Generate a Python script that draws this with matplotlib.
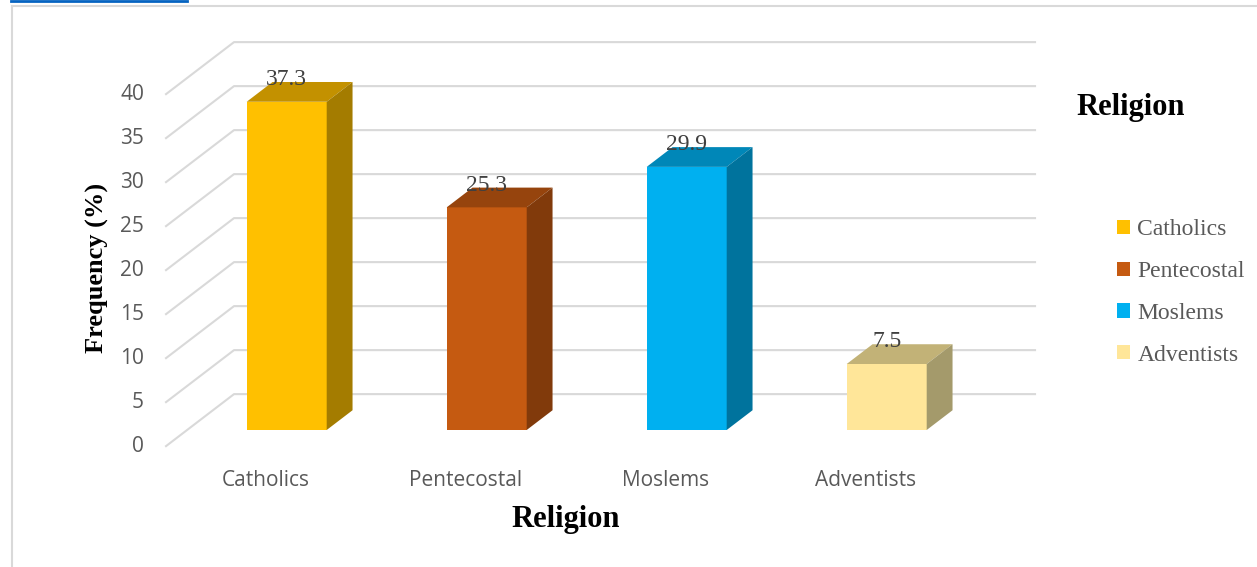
import numpy as np
import matplotlib
matplotlib.use("Agg")
from matplotlib import pyplot as plt
from matplotlib.patches import Polygon, Rectangle, Patch

#%% Data
religions = ["Catholics", "Pentecostal", "Moslems", "Adventists"]
frequency = [37.3, 25.3, 29.9, 7.5]
y_ticks = [0, 5, 10, 15, 20, 25, 30, 35, 40]

front_colors = ["#FFC000", "#C55A11", "#00B0F0", "#FFE699"]
top_colors = ["#C39100", "#96440D", "#0087B8", "#C2B277"]
side_colors = ["#A47C00", "#813A0B", "#00739D", "#A49A6B"]

#%% Layout (x in category units, y in value units)
W, H, DPI = 1257, 567, 100
x0_px, y0_px = 286.7, 430.0      # pixel of first bar front centre / value 0
sx, sy = 200.0, 8.8              # px per category / per value unit

# depth vector for one unit of depth
DDX, DDY = 68.0 / sx, 52.0 / sy
d_front, d_bar, d_back = -0.31, 0.38, 0.69
bar_w = 0.4
grid_c = "#D9D9D9"
serif = "Liberation Serif"
sans = "Open Sans"


def pos(x, v, d):
    return (x + DDX * d, v + DDY * d)


fig = plt.figure(figsize=(W / DPI, H / DPI), dpi=DPI)
ax = fig.add_axes([0, 0, 1, 1])
ax.set_xlim(-x0_px / sx, (W - x0_px) / sx)
ax.set_ylim((y0_px - H) / sy, y0_px / sy)
ax.axis("off")

# frame and link underline
fig.add_artist(plt.Line2D([11.5 / W, 11.5 / W], [0, 1 - 6 / H], color=grid_c, lw=1.5))
fig.add_artist(plt.Line2D([11.5 / W, 1], [1 - 6 / H, 1 - 6 / H], color=grid_c, lw=1.5))
fig.add_artist(plt.Line2D([11 / W, 187 / W], [1 - 1 / H, 1 - 1 / H], color="#0563C1", lw=2))

# gridlines: back wall + left side wall
x_left, x_right = -0.498, 3.507
for v in y_ticks:
    fx, fy = pos(x_left, v, d_front)
    bx, by = pos(x_left, v, d_back)
    rx, ry = pos(x_right, v, d_back)
    ax.plot([fx, bx, rx], [fy, by, ry], color=grid_c, lw=1.5, zorder=1)
    ax.text(fx - 0.11, fy - 0.1, str(v), ha="right", va="center",
            fontsize=15, color="#595959", family=sans)

# 3D bars
for i, v in enumerate(frequency):
    xl, xr = i - bar_w / 2, i + bar_w / 2
    ax.add_patch(Rectangle((xl, 0), bar_w, v, facecolor=front_colors[i],
                           edgecolor="none", zorder=3))
    top = [(xl, v), (xr, v), pos(xr, v, d_bar), pos(xl, v, d_bar)]
    ax.add_patch(Polygon(top, closed=True, facecolor=top_colors[i],
                         edgecolor="none", zorder=3))
    side = [(xr, 0), pos(xr, 0, d_bar), pos(xr, v, d_bar), (xr, v)]
    ax.add_patch(Polygon(side, closed=True, facecolor=side_colors[i],
                         edgecolor="none", zorder=3))
    lx, ly = pos(i, v, d_bar)
    ax.text(i, ly - 3 / sy, f"{v}", ha="center", va="baseline",
            fontsize=17, color="#404040", family=serif, zorder=4)
    cx, cy = pos(i, 0, d_front)
    ax.text(cx, (y0_px - 480) / sy, religions[i], ha="center", va="center",
            fontsize=15, color="#595959", family=sans)

# axis titles
ax.text((566 - x0_px) / sx, (y0_px - 519) / sy, "Religion", ha="center",
        va="center", fontsize=22, fontweight="bold", family=serif)
ax.text((97 - x0_px) / sx, (y0_px - 268) / sy, "Frequency (%)", ha="center",
        va="center", rotation=90, fontsize=19, fontweight="bold", family=serif)

# legend
ax.text((1131 - x0_px) / sx, (y0_px - 107) / sy, "Religion", ha="center",
        va="center", fontsize=22, fontweight="bold", family=serif)
handles = [Patch(facecolor=c, edgecolor="none") for c in front_colors]
leg = fig.legend(handles, religions, loc="upper left",
                 bbox_to_anchor=(1096 / W, 1 - 198 / H), frameon=False,
                 handlelength=0.55, handleheight=0.55, handletextpad=0.3,
                 labelspacing=0.88, prop={"family": serif, "size": 17})
for t in leg.get_texts():
    t.set_color("#595959")

fig.savefig("out.png", dpi=DPI)
